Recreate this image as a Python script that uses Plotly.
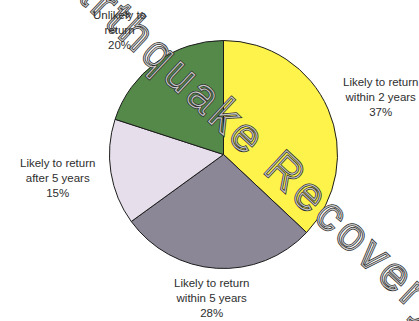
import plotly.graph_objects as go

# Survey result: intention to return after the earthquake
labels = ["Likely to return<br>within 2 years",
          "Likely to return<br>within 5 years",
          "Likely to return<br>after 5 years",
          "Unlikely to<br>return"]
values = [37, 28, 15, 20]
colors = ["#FDF34A", "#8C8796", "#E6DEEA", "#55894A"]

# label anchor points (pixel centres on the 419x321 canvas)
label_px = [(380, 97), (212, 298), (58, 178), (119, 30)]

W, H = 419, 321


def px(x):
    return x / W


def py(y):
    return 1 - y / H


fig = go.Figure(go.Pie(
    values=values,
    labels=labels,
    sort=False,
    direction="clockwise",
    rotation=0,
    marker=dict(colors=colors, line=dict(color="#1c1c1c", width=1)),
    textinfo="none",
    hoverinfo="skip",
    showlegend=False,
    domain=dict(x=[px(223.5 - 114), px(223.5 + 114)],
                y=[py(268.5), py(40.5)]),
))

# diagonal outlined watermark (two stacked copies: dark outer stroke, light core)
wm_text = "Earthquake Recovery"
for col in ["rgb(1,1,1)", "rgb(2,2,2)"]:
    fig.add_annotation(
        text=wm_text, x=px(248), y=py(136), xref="paper", yref="paper",
        xanchor="center", yanchor="middle", textangle=43, showarrow=False,
        font=dict(family="Liberation Sans, Arial, sans-serif", size=46, color=col),
    )

for (lx, ly), lab, v in zip(label_px, labels, values):
    fig.add_annotation(
        text=f"{lab}<br>{v}%", x=px(lx), y=py(ly), xref="paper", yref="paper",
        xanchor="center", yanchor="middle", showarrow=False, align="center",
        font=dict(family="Liberation Sans, Arial, sans-serif",
                  size=11.5, color="#2e2e2e"),
    )

fig.update_layout(
    width=W, height=H,
    margin=dict(l=0, r=0, t=0, b=0),
    paper_bgcolor="white",
    plot_bgcolor="white",
)

outline_js = """
var gs = document.querySelectorAll('g.annotation');
gs.forEach(function(g){
  var idx = g.getAttribute('data-index');
  var t = g.querySelector('text.annotation-text');
  if (!t) return;
  if (idx === '0') {
    t.style.setProperty('fill', 'none');
    t.style.setProperty('stroke', '#303030');
    t.style.setProperty('stroke-width', '2.6px');
    t.setAttribute('letter-spacing', '5');
  } else if (idx === '1') {
    t.style.setProperty('fill', 'none');
    t.style.setProperty('stroke', '#c8c8c8');
    t.style.setProperty('stroke-width', '1.1px');
    t.setAttribute('letter-spacing', '5');
  }
});
"""

fig.write_html("out.html", post_script=outline_js)
